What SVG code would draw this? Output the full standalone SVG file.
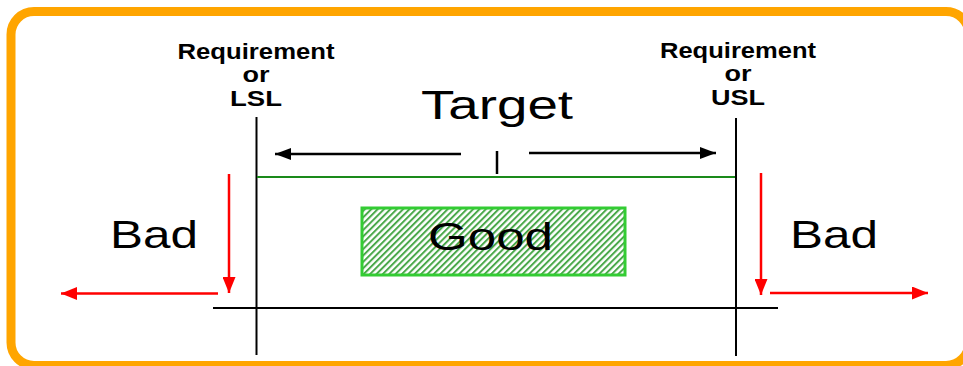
<svg xmlns="http://www.w3.org/2000/svg" width="963" height="366" viewBox="0 0 963 366">
  <style>
    .lbl{font-family:"Liberation Sans",Arial,sans-serif;font-weight:bold;font-size:21.5px;fill:#000;text-anchor:middle}
    .big{font-family:"Liberation Sans",Arial,sans-serif;fill:#000}
    .blk{stroke:#000;stroke-width:2;fill:none}
    .arw{stroke:#000;stroke-width:2.5;fill:none;marker-end:url(#ahK)}
    .red{stroke:#FF0000;stroke-width:2.5;fill:none;marker-end:url(#ahR)}
  </style>
  <defs>
    <marker id="ahK" markerUnits="userSpaceOnUse" markerWidth="16" markerHeight="12" refX="16" refY="6" orient="auto">
      <path d="M0,0 L16,6 L0,12 z" fill="#000"/>
    </marker>
    <marker id="ahR" markerUnits="userSpaceOnUse" markerWidth="16" markerHeight="13" refX="16" refY="6.5" orient="auto">
      <path d="M0,0 L16,6.5 L0,13 z" fill="#FF0000"/>
    </marker>
    <pattern id="hatch" patternUnits="userSpaceOnUse" width="4.5" height="4.5" patternTransform="rotate(45)">
      <rect width="4.5" height="4.5" fill="#ffffff"/>
      <rect x="0" y="0" width="2" height="4.5" fill="#4aa84a"/>
    </pattern>
  </defs>
  <rect width="963" height="366" fill="#ffffff"/>
  <rect id="frame" x="11" y="11.5" width="958" height="354" rx="23" ry="23" fill="#ffffff" stroke="#FFA500" stroke-width="9"/>

  <g id="connectors">
    <line class="blk" x1="256.5" y1="117" x2="256.5" y2="355"/>
    <line class="blk" x1="736" y1="118" x2="736" y2="356"/>
    <line x1="257" y1="177" x2="735" y2="177" stroke="#1a8a1a" stroke-width="2"/>
    <line class="blk" x1="213" y1="308" x2="778" y2="308"/>
    <line class="arw" x1="461" y1="154" x2="275" y2="154"/>
    <line class="arw" x1="529" y1="153" x2="716" y2="153"/>
    <line x1="497" y1="151" x2="497" y2="174" stroke="#000" stroke-width="2.5"/>
    <line class="red" x1="229" y1="174" x2="229" y2="293"/>
    <line class="red" x1="218" y1="293.5" x2="61" y2="293.5"/>
    <line class="red" x1="761" y1="173" x2="761" y2="295"/>
    <line class="red" x1="770" y1="293" x2="928" y2="293"/>
  </g>

  <g id="lsl">
    <text class="lbl" x="256" y="59" textLength="157" lengthAdjust="spacingAndGlyphs">Requirement</text>
    <text class="lbl" x="256" y="82" textLength="27" lengthAdjust="spacingAndGlyphs">or</text>
    <text class="lbl" x="256" y="106" textLength="52" lengthAdjust="spacingAndGlyphs">LSL</text>
  </g>
  <g id="usl">
    <text class="lbl" x="738" y="58" textLength="156" lengthAdjust="spacingAndGlyphs">Requirement</text>
    <text class="lbl" x="738" y="81" textLength="27" lengthAdjust="spacingAndGlyphs">or</text>
    <text class="lbl" x="738" y="105" textLength="54" lengthAdjust="spacingAndGlyphs">USL</text>
  </g>
  <g id="target">
    <text class="big" x="421" y="119" font-size="40" textLength="152" lengthAdjust="spacingAndGlyphs">Target</text>
  </g>
  <g id="good">
    <rect x="362" y="208" width="263" height="67" fill="url(#hatch)" stroke="#33cc33" stroke-width="3"/>
    <text class="big" x="428" y="250" font-size="38" textLength="125" lengthAdjust="spacingAndGlyphs">Good</text>
  </g>
  <g id="bad-left">
    <text class="big" x="110" y="248" font-size="39" textLength="88" lengthAdjust="spacingAndGlyphs">Bad</text>
  </g>
  <g id="bad-right">
    <text class="big" x="790" y="248" font-size="39" textLength="88" lengthAdjust="spacingAndGlyphs">Bad</text>
  </g>
</svg>
